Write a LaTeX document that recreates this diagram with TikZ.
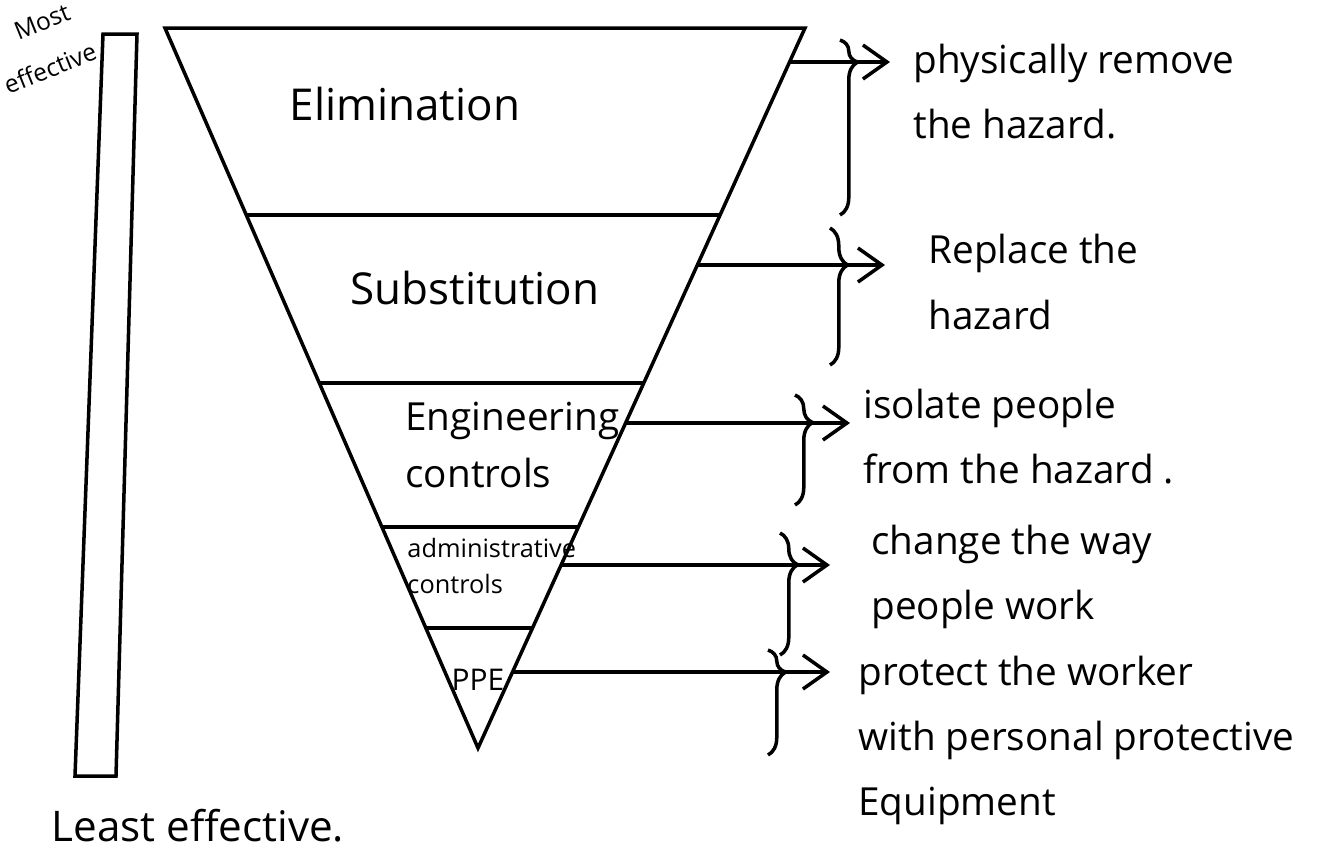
\documentclass[tikz,border=0pt]{standalone}
\usepackage{fontspec}
\setmainfont{Open Sans}
\usetikzlibrary{arrows.meta,calc,decorations.pathreplacing}

\begin{document}
\begin{tikzpicture}[
    x=0.01cm, y=-0.01cm,
    line width=1pt,
    >={Straight Barb[length=2.4mm,width=3.4mm]},
    level/.style={font=\fontsize{12.5}{17}\selectfont, align=left},
    small/.style={font=\fontsize{7.2}{10.5}\selectfont, align=left},
    tiny/.style={font=\fontsize{7}{8}\selectfont, rotate=22, inner sep=0pt},
    note/.style={font=\fontsize{11}{18.5}\selectfont, align=left, anchor=west},
    arr/.style={->},
    brc/.style={decorate, decoration={brace, amplitude=5pt, aspect=#1}}
]
\useasboundingbox (0,0) rectangle (1338,850);

% effectiveness bar
\draw (103,34) -- (137,34) -- (116,776) -- (75,776) -- cycle;
\node[tiny] (most) at (42,22) {Most};
\node[tiny] (eff) at (50,68) {effective};
\node[note, font=\fontsize{12}{15}\selectfont] (least) at (38,826) {Least effective.};

% inverted triangle
\coordinate (tl) at (165,28);
\coordinate (tr) at (805,28);
\coordinate (apex) at (478,748);
\draw (tl) -- (tr) -- (apex) -- cycle;
\foreach \t in {0.26,0.493,0.693,0.833}
  \draw ($(tl)!\t!(apex)$) -- ($(tr)!\t!(apex)$);

\node[level] (elim) at (405,104) {Elimination};
\node[level] (subst) at (475,288) {Substitution};
\node[level, font=\fontsize{11}{16}\selectfont, anchor=west] (eng) at (392,445) {Engineering\\controls};
\node[small, anchor=west] (admin) at (394,566) {administrative\\controls};
\node[small, font=\fontsize{8.5}{10}\selectfont] (ppe) at (478,680) {PPE};

% arrows out of the triangle
\foreach \t/\xe/\ye [count=\i] in {0.047/890/62, 0.329/885/265, 0.549/850/423,
                                   0.746/830/565, 0.894/830/672} {
  \coordinate (s\i) at ($(tr)!\t!(apex)$);
  \coordinate (e\i) at (\xe,\ye);
  \draw[arr] (s\i |- e\i) -- (e\i);
}

% braces
\draw[brc=0.126] (840,40) -- (840,215);
\draw[brc=0.27] (830,228) -- (830,365);
\draw[brc=0.25] (795,395) -- (795,505);
\draw[brc=0.26] (780,533) -- (780,655);
\draw[brc=0.21] (768,650) -- (768,755);

% descriptions
\node[note] (d1) at (900,92) {physically remove\\the hazard.};
\node[note] (d2) at (915,282) {Replace the\\hazard};
\node[note] (d3) at (850,437) {isolate people\\from the hazard .};
\node[note] (d4) at (858,577) {change the way\\people work};
\node[note] (d5) at (845,740) {protect the worker\\with personal protective\\Equipment};
\end{tikzpicture}
\end{document}
